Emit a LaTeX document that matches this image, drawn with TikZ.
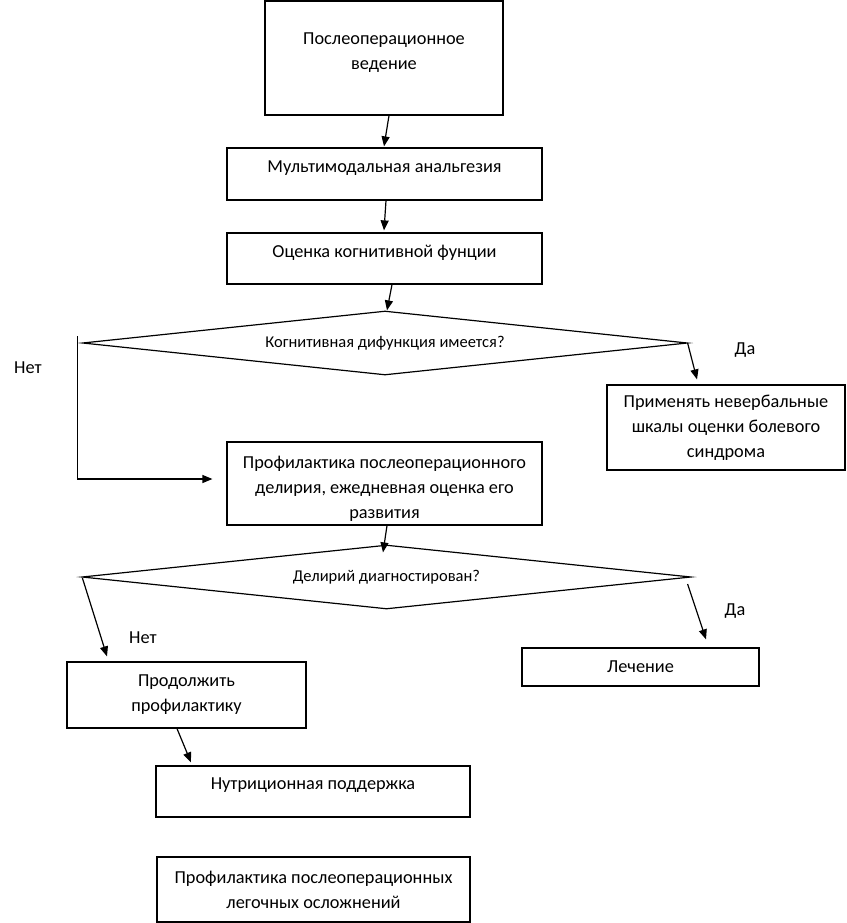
\documentclass[tikz,border=0pt]{standalone}
\usepackage{fontspec}
\setmainfont{Carlito}
\usetikzlibrary{arrows.meta,calc,shapes.geometric}
\begin{document}
\begin{tikzpicture}[x=1pt,y=-1pt,
  every node/.style={font=\fontsize{18.3pt}{25pt}\selectfont},
  box/.style={draw,line width=1.2pt,rectangle,inner sep=0pt,align=center},
  onelinebox/.style={box,text depth=15pt},
  decision/.style={draw,line width=1.2pt,diamond,inner sep=0pt,font=\fontsize{16.5pt}{22pt}\selectfont},
  lbl/.style={inner sep=0pt},
  arr/.style={line width=1.2pt,-{Triangle[length=10pt,width=8pt]}}]
\useasboundingbox (0,0) rectangle (846,923);

\node[box,minimum width=238pt,minimum height=114pt] (b1) at (384,58) {Послеоперационное\\ведение\rule[-13pt]{0pt}{0pt}};
\node[onelinebox,minimum width=315pt,minimum height=52pt] (b2) at (384.5,174) {Мультимодальная анальгезия};
\node[onelinebox,minimum width=315pt,minimum height=51pt] (b3) at (384.5,258.5) {Оценка когнитивной фунции};
\node[decision,aspect=9.45,minimum width=605pt,minimum height=64pt] (d1) at (385,343) {Когнитивная дифункция имеется?};
\node[box,minimum width=238pt,minimum height=85pt] (b4) at (726,427.5) {Применять невербальные\\шкалы оценки болевого\\синдрома};
\node[box,minimum width=315pt,minimum height=83pt] (b5) at (384.5,483.5) {\rule{0pt}{23pt}Профилактика послеоперационного\\делирия, ежедневная оценка его\\развития};
\node[decision,aspect=9.5,minimum width=609pt,minimum height=64pt] (d2) at (386.5,577) {Делирий диагностирован?};
\node[box,minimum width=237pt,minimum height=38pt] (b6) at (640.5,667) {Лечение};
\node[box,minimum width=239pt,minimum height=66pt] (b7) at (186.5,695) {Продолжить\\профилактику};
\node[onelinebox,minimum width=314pt,minimum height=51pt] (b8) at (313,791.5) {Нутриционная поддержка};
\node[box,minimum width=313pt,minimum height=65pt] (b9) at (313.5,889.5) {Профилактика послеоперационных\\легочных осложнений};

\node[lbl] (n1) at (28,368) {Нет};
\node[lbl] (y1) at (745,350) {Да};
\node[lbl] (n2) at (143,638) {Нет};
\node[lbl] (y2) at (735,611) {Да};

\draw[arr] ($(b1.south)+(5,0)$) -- ($(b2.north)+(-0.5,-1)$);
\draw[arr] ($(b2.south)+(1.5,0)$) -- ($(b3.north)+(-0.5,-2)$);
\draw[arr] ($(b3.south)+(7.5,0)$) -- ($(d1.north)+(2,0)$);
\draw[arr] ($(d1.west)+(-4.5,-7)$) |- ($(b5.west)+(-14,-4.5)$);
\draw[arr] ($(d1.east)+(-0.5,0)$) -- ($(b4.north)+(-29,-5)$);
\draw[arr] ($(b5.south)+(2.5,0)$) -- ($(d2.north)+(-3.5,8)$);
\draw[arr] ($(d2.west)+(1,1)$) -- ($(b7.north)+(-79.5,-5)$);
\draw[arr] ($(d2.east)+(-4,7)$) -- ($(b6.north)+(65.5,-8)$);
\draw[arr] ($(b7.south)+(-9.5,0)$) -- ($(b8.north)+(-122,-3)$);
\end{tikzpicture}
\end{document}
